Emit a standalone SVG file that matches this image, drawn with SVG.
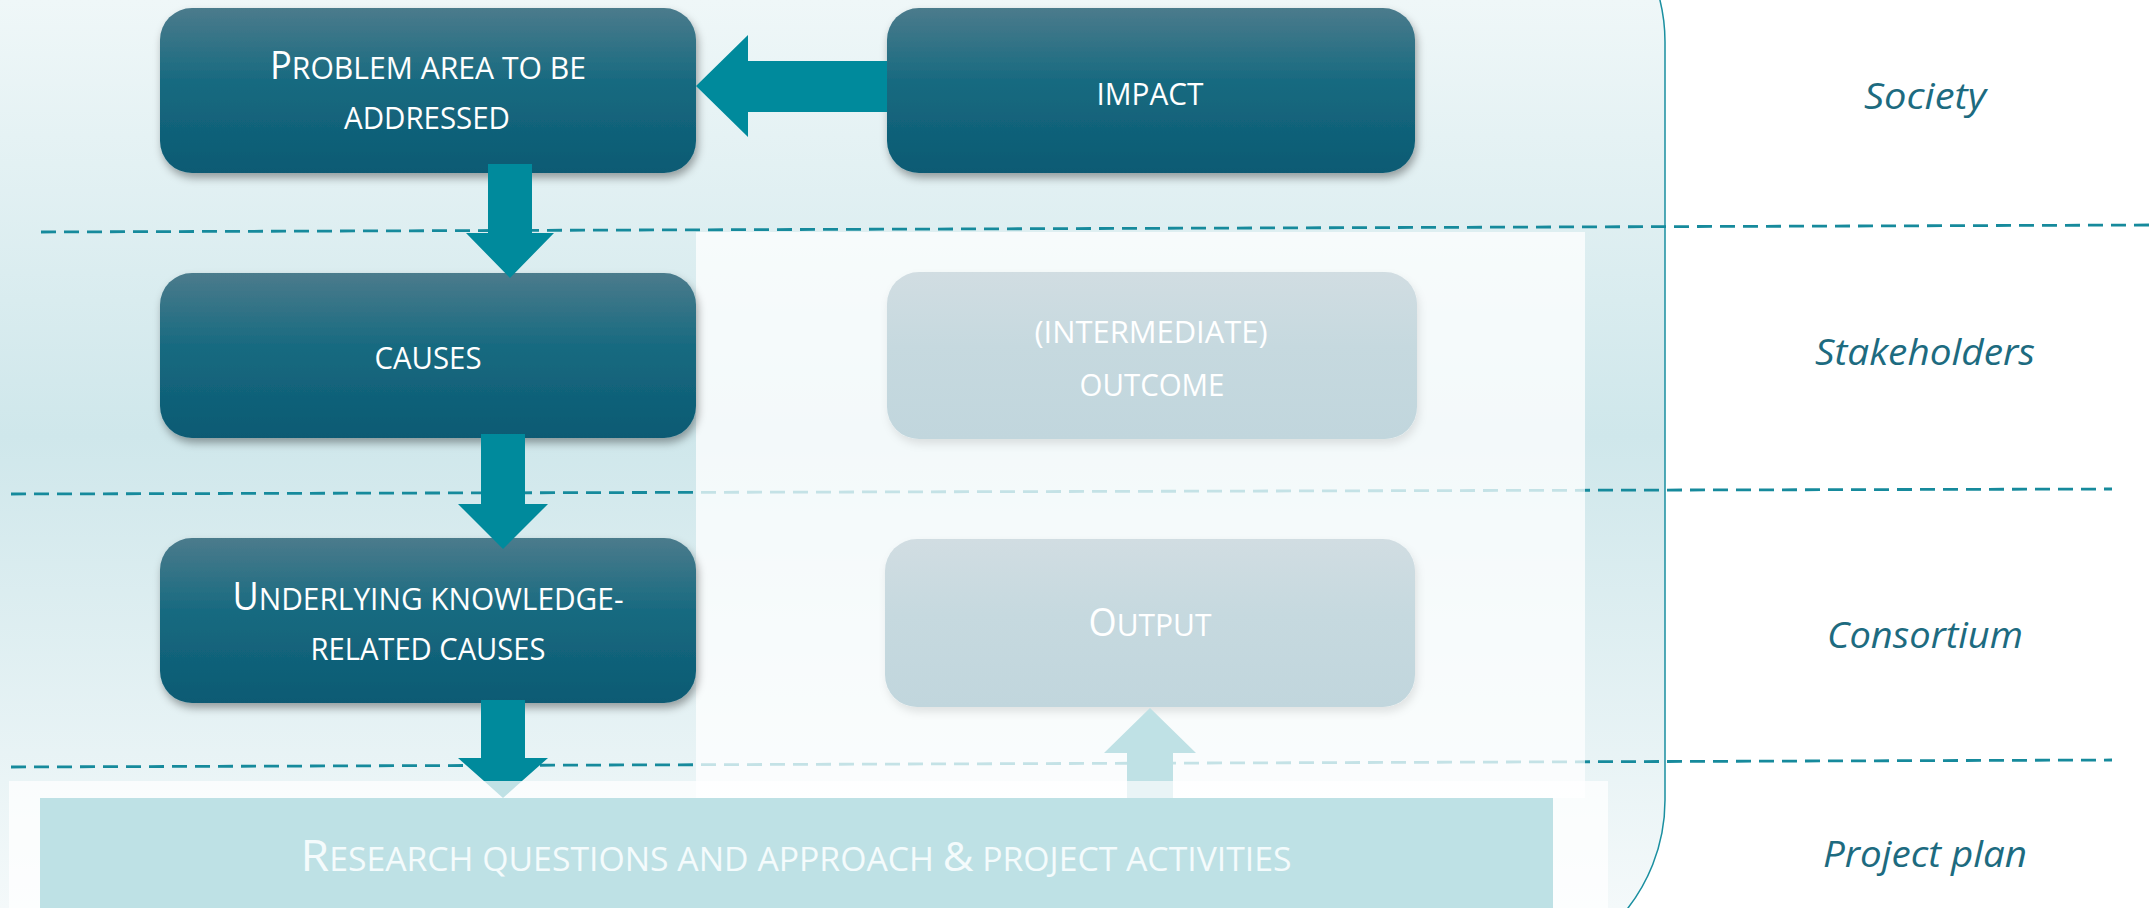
<svg xmlns="http://www.w3.org/2000/svg" width="2154" height="908" viewBox="0 0 2154 908">
<defs>
<linearGradient id="panelGrad" gradientUnits="userSpaceOnUse" x1="0" y1="0" x2="0" y2="908">
<stop offset="0" stop-color="#eff7f8"/>
<stop offset="0.48" stop-color="#cfe7eb"/>
<stop offset="1" stop-color="#f4f9fa"/>
</linearGradient>
<linearGradient id="darkBox" x1="0" y1="0" x2="0" y2="1">
<stop offset="0" stop-color="#4b7b8c"/>
<stop offset="0.45" stop-color="#176a80"/>
<stop offset="1" stop-color="#0b5a73"/>
</linearGradient>
<linearGradient id="fadeBox" x1="0" y1="0" x2="0" y2="1">
<stop offset="0" stop-color="#d1dde2"/>
<stop offset="0.45" stop-color="#c6d9df"/>
<stop offset="1" stop-color="#c1d6dd"/>
</linearGradient>
<filter id="shadow" x="-10%" y="-10%" width="120%" height="130%">
<feDropShadow dx="2" dy="5" stdDeviation="4" flood-color="#000" flood-opacity="0.35"/>
</filter>
<filter id="shadowLight" x="-10%" y="-10%" width="120%" height="130%">
<feDropShadow dx="2" dy="5" stdDeviation="4" flood-color="#000" flood-opacity="0.1"/>
</filter>
<style>
.dash{fill:none;stroke:#168a9c;stroke-width:2.8;stroke-dasharray:15 8}
.dark{fill:url(#darkBox);filter:url(#shadow)}
.fade{fill:url(#fadeBox);filter:url(#shadowLight)}
.bt{font-family:"Open Sans","Liberation Sans",sans-serif;font-size:31.5px;text-transform:uppercase;fill:#ffffff;text-anchor:middle}
.cap{font-size:38px}
.rt{font-size:32px;fill:#f4fbfc}
.rcap{font-size:44px}
.amp{font-size:40px}
.lbl{font-family:"Open Sans","Liberation Sans",sans-serif;font-size:36px;font-style:italic;fill:#1d6b80;text-anchor:middle}
.arrow{fill:#008a9c}
</style>
</defs>
<rect width="2154" height="908" fill="#ffffff"/>
<g id="background">
<rect x="-200" y="-134" width="1865" height="1110" rx="176" ry="176" fill="url(#panelGrad)" stroke="#1a8fa0" stroke-width="1.5"/>
</g>
<g id="lanes">
<line class="dash" x1="41" y1="232" x2="2154" y2="225"/>
<line class="dash" x1="11" y1="494" x2="2112" y2="489"/>
<line class="dash" x1="11" y1="767" x2="2112" y2="760"/>
</g>
<g id="overlays">
<rect x="696" y="232" width="889" height="566" fill="#ffffff" fill-opacity="0.75"/>
<rect x="9" y="781" width="1599" height="140" fill="#ffffff" fill-opacity="0.75"/>
</g>
<g id="problem">
<rect class="dark" x="160" y="8" width="536" height="165" rx="32" ry="32"/>
<text class="bt" x="428" y="79" textLength="316" lengthAdjust="spacingAndGlyphs"><tspan class="cap">P</tspan>roblem area to be</text>
<text class="bt" x="427" y="129" textLength="166" lengthAdjust="spacingAndGlyphs">addressed</text>
</g>
<g id="impact">
<rect class="dark" x="887" y="8" width="528" height="165" rx="32" ry="32"/>
<text class="bt" x="1150" y="105" textLength="107" lengthAdjust="spacingAndGlyphs">impact</text>
</g>
<g id="causes">
<rect class="dark" x="160" y="273" width="536" height="165" rx="32" ry="32"/>
<text class="bt" x="428" y="369" textLength="107" lengthAdjust="spacingAndGlyphs">causes</text>
</g>
<g id="outcome">
<rect class="fade" x="887" y="272" width="530" height="167" rx="32" ry="32"/>
<text class="bt" x="1151" y="343" textLength="233" lengthAdjust="spacingAndGlyphs">(intermediate)</text>
<text class="bt" x="1152" y="396" textLength="145" lengthAdjust="spacingAndGlyphs">outcome</text>
</g>
<g id="underlying">
<rect class="dark" x="160" y="538" width="536" height="165" rx="32" ry="32"/>
<text class="bt" x="428" y="610" textLength="391" lengthAdjust="spacingAndGlyphs"><tspan class="cap">U</tspan>nderlying knowledge-</text>
<text class="bt" x="428" y="660" textLength="235" lengthAdjust="spacingAndGlyphs">related causes</text>
</g>
<g id="output">
<rect class="fade" x="885" y="539" width="530" height="168" rx="32" ry="32"/>
<text class="bt" x="1150" y="636" textLength="123" lengthAdjust="spacingAndGlyphs"><tspan class="cap">O</tspan>utput</text>
</g>
<g id="research">
<rect x="40" y="798" width="1513" height="130" fill="#bee1e5"/>
<text class="bt rt" x="796" y="871" textLength="991" lengthAdjust="spacingAndGlyphs"><tspan class="rcap">R</tspan>esearch questions and approach <tspan class="amp">&amp;</tspan> project activities</text>
</g>
<g id="connectors">
<polygon class="arrow" points="696,86 748,35 748,61 887,61 887,112 748,112 748,137"/>
<polygon class="arrow" points="488,164 532,164 532,233 554,233 510,278 466,233 488,233"/>
<polygon class="arrow" points="481,434 525,434 525,504 548,504 503,549 458,504 481,504"/>
<polygon class="arrow" points="481,700 525,700 525,758 548,758 522,781 484,781 458,758 481,758"/>
<polygon points="484,781 522,781 503,798" fill="#bfe1e5"/>
<polygon points="1127,781 1127,753 1104,753 1150,708 1196,753 1173,753 1173,781" fill="#bfe1e5"/>
<rect x="1127" y="781" width="46" height="17" fill="#e9f4f6"/>
</g>
<g id="labels">
<text class="lbl" x="1925" y="109" textLength="122" lengthAdjust="spacingAndGlyphs">Society</text>
<text class="lbl" x="1925" y="365" textLength="220" lengthAdjust="spacingAndGlyphs">Stakeholders</text>
<text class="lbl" x="1925" y="648" textLength="196" lengthAdjust="spacingAndGlyphs">Consortium</text>
<text class="lbl" x="1925" y="867" textLength="204" lengthAdjust="spacingAndGlyphs">Project plan</text>
</g>
</svg>
